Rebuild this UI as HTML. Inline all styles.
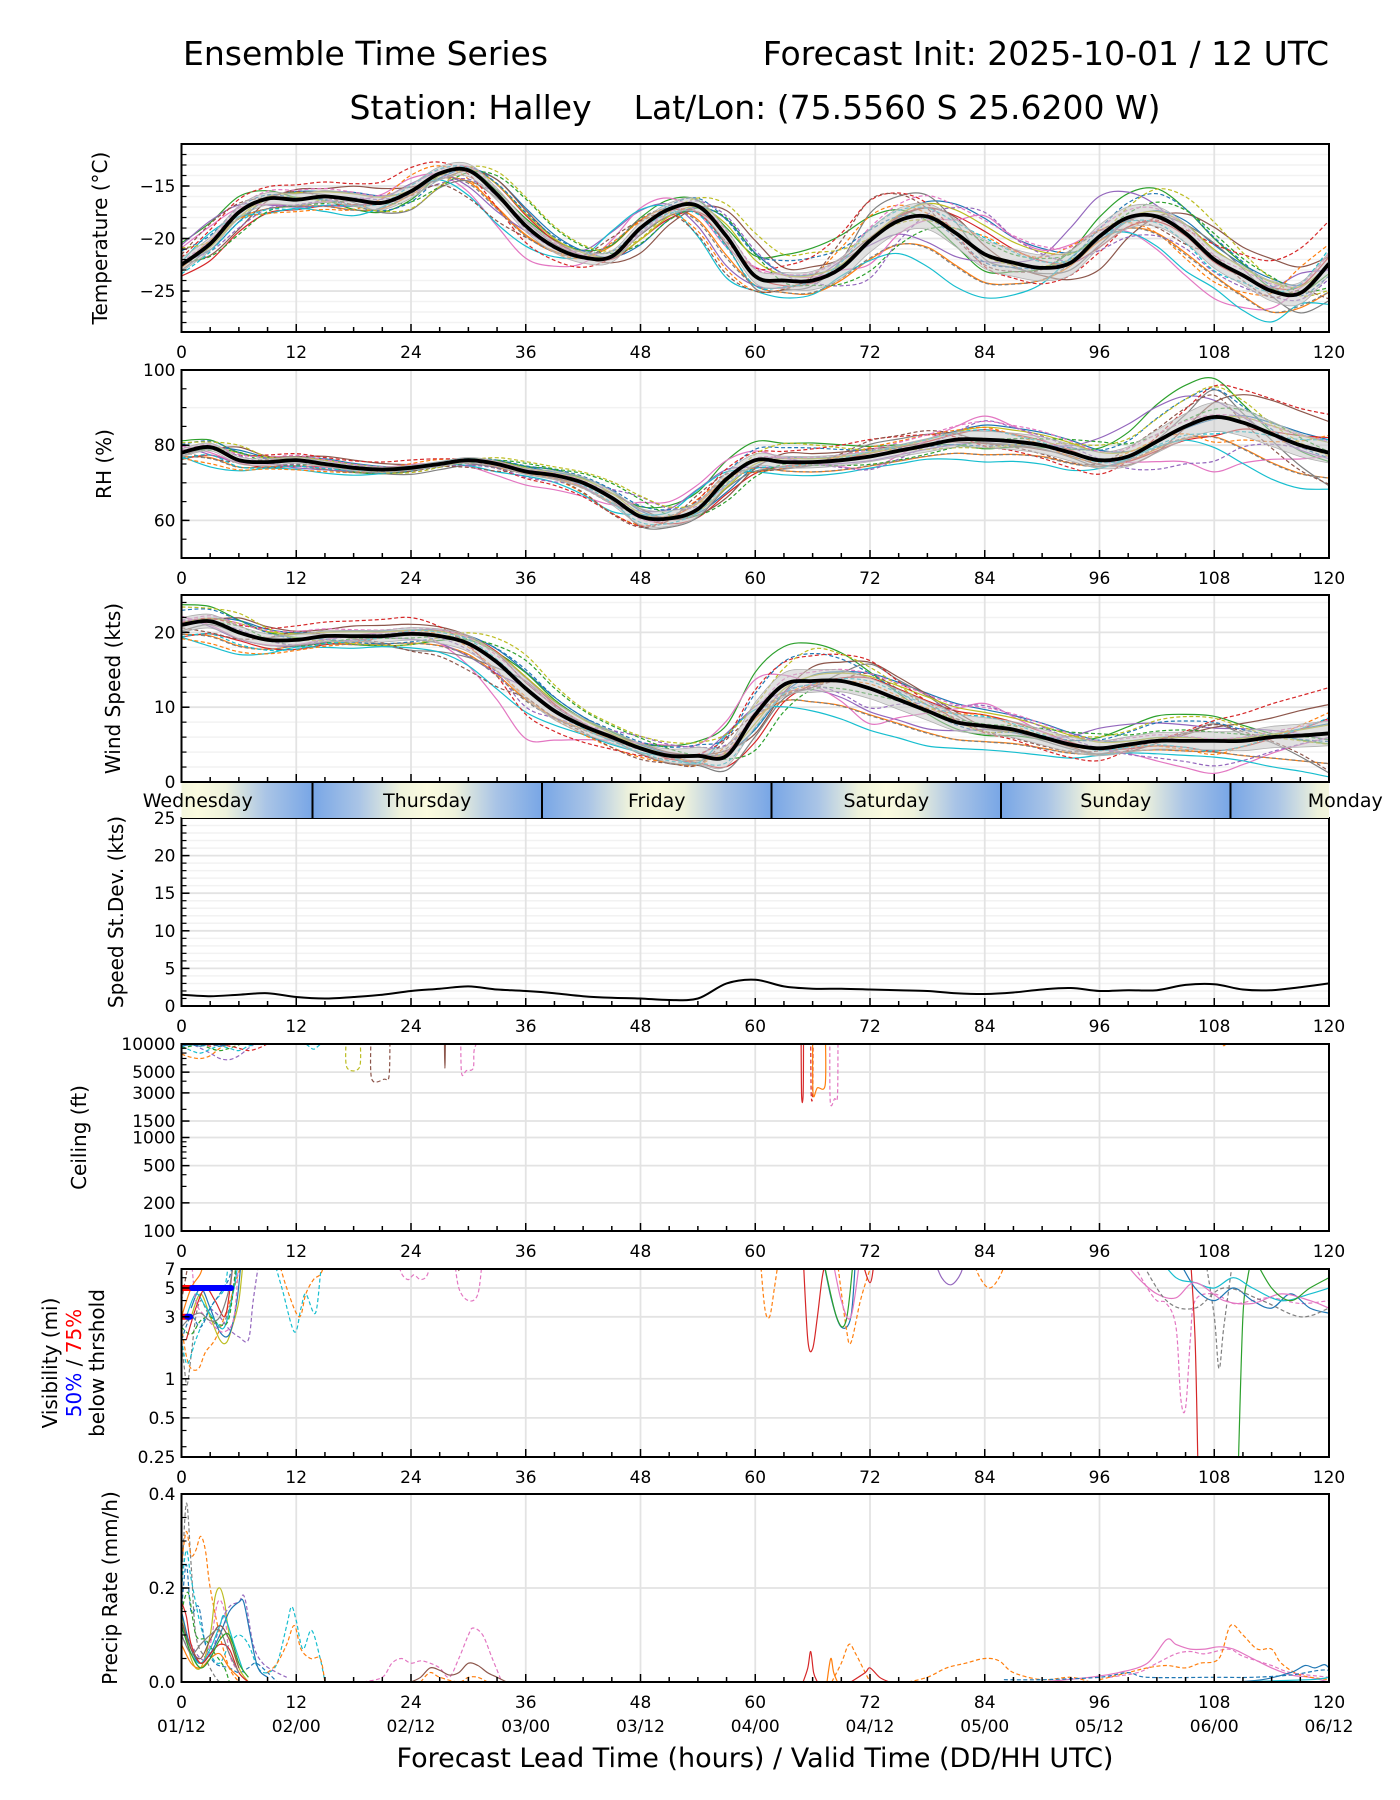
<!DOCTYPE html>
<html><head><meta charset="utf-8">
<style>
html,body{margin:0;padding:0;background:#fff;}
svg{display:block;font-family:"DejaVu Sans","Liberation Sans",sans-serif;}
</style></head>
<body>
<svg id="chart" width="1400" height="1800" viewBox="0 0 1400 1800" xmlns="http://www.w3.org/2000/svg">
<rect width="1400" height="1800" fill="#fff"/>
<text x="183" y="65" font-size="33">Ensemble Time Series</text>
<text x="1329" y="65" font-size="33" text-anchor="end">Forecast Init: 2025-10-01 / 12 UTC</text>
<text x="755" y="119" font-size="33" text-anchor="middle" xml:space="preserve">Station: Halley    Lat/Lon: (75.5560 S 25.6200 W)</text>
<text x="755" y="1767" font-size="27" text-anchor="middle">Forecast Lead Time (hours) / Valid Time (DD/HH UTC)</text>
<g id="root"></g>
</svg>
<script>
// ---------- DATA ----------
const hours3 = [0,3,6,9,12,15,18,21,24,27,30,33,36,39,42,45,48,51,54,57,60,63,66,69,72,75,78,81,84,87,90,93,96,99,102,105,108,111,114,117,120];
const hours12 = [0,12,24,36,48,60,72,84,96,108,120];
const tempMean = [-22.5,-20.5,-17.5,-16.2,-16.3,-16.0,-16.3,-16.6,-15.5,-13.8,-13.5,-15.8,-18.8,-20.8,-21.8,-21.7,-19.0,-17.2,-16.9,-19.8,-23.6,-24.0,-24.0,-22.8,-20.2,-18.3,-17.9,-19.5,-21.5,-22.3,-22.8,-22.3,-19.8,-18.0,-17.9,-19.5,-22.0,-23.5,-25.0,-25.2,-22.4];
const tempSpread = [1.2,1.0,1.2,1.0,1.0,1.2,2.0,2.5,2.0,1.5,2.0];
const rhMean = [78,79.5,76,75.5,76,75,74,73.5,74,75,76,75,73,72,70,66,61,60.5,63,71,76,75.5,75.5,76,77,78.5,80,81.5,81.5,81,80,78,76,77,81,85,87.5,86,83,80,78];
const rhSpread = [2.0,1.5,1.2,1.5,4.0,3.0,2.5,4.0,4.0,7.0,5.0];
const windMean = [21,21.5,20,19,19,19.5,19.5,19.5,19.8,19.5,18.5,16,12.5,9.5,7.5,6,4.5,3.5,3.5,3.5,9,13,13.5,13.5,12.5,11,9.5,8,7.5,7,6,5,4.5,5,5.5,5.5,5.5,5.5,6,6.2,6.5];
const windSpread = [1.8,1.3,1.5,2.5,1.2,3.0,2.5,2.0,1.8,2.2,3.0];
const sdevValues = [1.5,1.3,1.5,1.7,1.2,1.0,1.2,1.5,2.0,2.3,2.6,2.2,2.0,1.7,1.3,1.1,1.0,0.8,1.0,3.0,3.5,2.6,2.3,2.3,2.2,2.1,2.0,1.7,1.6,1.8,2.2,2.4,2.0,2.1,2.1,2.8,2.9,2.2,2.1,2.5,3.0];
const pattern0 = [0.5,1,0.8,0.3,-0.2,0.6,1.2,1.5,0.8,0.5,1];
const pattern1 = [-0.8,-0.5,-1,-0.6,0.2,-0.4,-1.3,-1.5,-1,-0.7,-1.2];
const pattern2 = [1.2,0.2,-0.5,0.9,1,1.3,0.5,-0.3,0.4,1.1,0.3];
const pattern3 = [-1.3,-1,0.3,-0.2,-0.9,-1.2,0.4,0.7,-0.5,-1,0.6];
const pattern4 = [0.3,-1.2,-0.4,1.1,0.5,-0.7,-0.8,0.4,1.3,0.2,-0.9];
const pattern5 = [-0.2,0.8,1.1,-1,-0.6,0.3,0.9,-0.9,-1.2,0.8,1.4];
const pattern6 = [0.9,-0.3,0.2,-1.3,1.2,0.9,-1.4,1.1,0.2,-1.3,-0.4];
const pattern7 = [-0.6,0.6,-1.2,0.5,-1.1,-0.9,1.4,-0.5,-0.2,1.4,-1.5];
const memberScale = [1,0.8,1.2,0.9,1.1,0.7,1.3,1,0.85,1.15,0.9,1.2,0.75,1.05,1,0.95,1.25,0.8,1.1,0.9];
const memberShift = [-1.5,1.0,0.5,-0.8,2.0,-2.2,1.5,0.0,-1.0,2.5,-0.5,1.8,-2.0,0.8,-1.3,2.2,-0.3,1.2,-1.8,0.3];
const hourTicks = [0,12,24,36,48,60,72,84,96,108,120];
const dateTicks = ["01/12","02/00","02/12","03/00","03/12","04/00","04/12","05/00","05/12","06/00","06/12"];
const dayNames = ["Wednesday","Thursday","Friday","Saturday","Sunday","Monday"];
const dayBoundaries = [13.7,37.7,61.7,85.7,109.7];
const ceilMembers = [
 [1,1,[[0,7800],[1,7200],[2,7000],[3,7500],[4,9000],[5,10000],[6,10500],[7,11000]]],
 [4,1,[[0,10500],[1,10000],[2,9000],[3,8000],[4,7000],[5,6800],[6,7500],[7,9000],[8,10500],[9,11000]]],
 [9,1,[[0,9500],[1,8500],[2,8000],[3,8800],[4,9500],[5,9000],[6,8500],[7,9500],[8,10000],[9,10500],[10,11000]]],
 [2,1,[[0,9000],[1,9500],[2,9800],[3,9000],[4,8500],[5,9000],[6,9800],[7,10500],[8,11000]]],
 [3,1,[[0,10500],[2,10000],[3,9500],[4,9800],[5,9500],[6,9000],[7,8500],[8,9000],[9,10000],[10,11000]]],
 [0,0,[[0,9500],[1,9800],[2,9500],[3,10000],[4,9500],[5,10000],[6,10500],[7,11000]]],
 [9,1,[[12.5,11000],[13.3,9500],[13.8,8800],[14.3,9500],[15,11000]]],
 [8,1,[[17.2,11000],[17.3,5600],[18.6,5600],[18.7,11000]]],
 [5,1,[[19.8,11000],[19.9,4200],[21.2,4200],[21.7,4500],[21.8,11000]]],
 [5,0,[[27.5,11000],[27.55,5500],[27.6,11000]]],
 [6,1,[[29.2,11000],[29.3,4800],[29.8,5200],[30.5,5500],[30.6,8500],[31,11000]]],
 [3,0,[[64.8,11000],[64.85,2800],[65.0,2800],[65.05,11000]]],
 [3,1,[[65.8,11000],[65.85,2900],[66.0,2900],[66.05,11000]]],
 [1,0,[[66.0,11000],[66.05,2900],[66.5,3400],[67.3,3600],[67.35,11000]]],
 [6,1,[[67.8,11000],[67.85,2400],[68.3,2600],[68.6,2800],[68.65,11000]]],
 [1,1,[[108.5,11000],[109,9600],[109.5,11000]]]
];
const visMembers = [
 [7,1,[[0,2],[0.3,1.2],[0.6,0.9],[1,1.5],[1.5,3],[2,4],[2.5,3.5],[3,3],[4,2.5],[5,3.5],[6,9]]],
 [1,1,[[0,2.5],[0.5,1.5],[1,1.2],[1.8,1.2],[2.5,1.6],[3.5,2],[4.5,3],[5.5,5],[6.5,9]]],
 [9,1,[[0,2],[0.6,1.3],[1.5,2],[2.5,3],[3.5,4],[4.5,5],[5,9]]],
 [4,1,[[3,3.5],[4,3],[5,2.4],[6,2.1],[7,2],[7.5,4],[8.2,9]]],
 [8,0,[[1,3],[2,4.5],[3,3],[4,2],[4.7,1.9],[5.3,2.5],[6,4],[6.5,9]]],
 [0,0,[[1,3.5],[2,5],[3,3.5],[4,2.3],[5,2.2],[5.8,4],[6.3,9]]],
 [9,0,[[0.5,3],[1.5,4.5],[2.5,3.6],[3.5,2.8],[4.5,2.5],[5.5,5],[6,9]]],
 [5,1,[[0,4],[0.6,7],[0.8,9]]],
 [2,1,[[0,2.5],[1,2.2],[2,2.8],[3,3],[4,2.6],[5,3],[5.8,9]]],
 [3,0,[[0.5,2],[1.5,3.5],[2.5,5],[3.5,4],[4.5,3],[5,4.5],[5.5,9]]],
 [6,1,[[1,9],[1.5,4],[2.5,3],[3.5,2.5],[4.5,2.3],[5.5,3],[6,9]]],
 [1,0,[[0,3],[1,5],[2,6.5],[2.5,9]]],
 [7,0,[[0,2.5],[1,3],[2,3.2],[3,2.8],[4,3],[5,5],[5.5,9]]],
 [0,1,[[0,2],[1,3],[2,2.5],[3,3.5],[4,4.5],[5,6],[5.5,9]]],
 [9,1,[[9.5,9],[10.5,5],[11.8,2.3],[12.5,3.5],[13,4.5],[14,3.2],[14.6,7],[15,9]]],
 [1,1,[[10,9],[11,5],[12.3,3],[13,4.5],[13.8,5.8],[14.6,6.5],[15.2,9]]],
 [6,1,[[22.5,9],[23,6.5],[23.7,5.8],[24.3,6.3],[25,5.8],[25.7,6.3],[26.2,9]]],
 [6,1,[[28.5,9],[29,5],[30,4],[31,4.5],[31.5,9]]],
 [5,0,[[28.7,9],[29,6.8],[29.3,9]]],
 [1,1,[[60.5,9],[61,3.5],[61.5,3],[62,5],[62.5,9]]],
 [3,0,[[65,9],[65.5,2],[66,1.7],[66.5,3],[67,6],[67.5,9]]],
 [0,0,[[67,9],[68,4],[69,2.5],[70,3],[70.5,9]]],
 [1,1,[[68.5,9],[69.5,2.5],[70,1.9],[71,4],[72,7],[72.5,9]]],
 [2,0,[[67,9],[68.5,3],[69.5,2.8],[70.3,9]]],
 [6,0,[[68,9],[69,4],[70,3],[71,9]]],
 [3,0,[[71,9],[72,5.5],[72.5,9]]],
 [4,0,[[78.5,9],[79.5,6],[80.5,5.3],[81.5,6.5],[82,9]]],
 [1,1,[[82.5,9],[83.5,6],[84.5,5],[85.5,6],[86.5,9]]],
 [6,1,[[99,9],[101,5],[102,4],[103,3.8],[104,2.5],[104.5,0.7],[105,0.6],[105.5,2],[106,4],[108,4.5],[110,3.8],[112,4],[114,4.2],[117,3.8],[120,4]]],
 [3,0,[[105.5,9],[106,2],[106.3,0.2]]],
 [7,1,[[107,9],[108,3],[108.5,1.2],[109,2.5],[110,9]]],
 [2,0,[[110.5,0.2],[111,3],[111.5,6],[112,9]]],
 [0,0,[[104,9],[106,5],[108,4],[110,5],[112,4],[114,3.5],[116,4.5],[118,3.5],[120,3.2]]],
 [9,0,[[102,9],[104,6],[106,5.5],[108,5],[110,6],[112,5],[115,4],[118,4.5],[120,5]]],
 [6,0,[[98,9],[100,6],[102,4.5],[104,4.2],[106,5.5],[109,4],[112,3.8],[115,4.5],[118,4],[120,3.5]]],
 [7,1,[[100,9],[103,4],[106,3.5],[109,5],[113,4],[117,3],[120,3.5]]],
 [2,0,[[112,9],[114,5],[116,4],[118,5],[120,6]]]
];
const visThresholds = [[0,1.1,5,"#ff0000"],[1.1,5.2,5,"#0000ff"],[0,0.6,3,"#ff0000"],[0.6,0.9,3,"#0000ff"]];
const precipMembers = [
 [7,1,[[0,0.2],[0.5,0.38],[1,0.25],[1.5,0.1],[2.5,0.05],[4,0.0],[6,0]]],
 [1,1,[[0,0.25],[0.5,0.32],[1,0.27],[1.5,0.28],[2,0.31],[2.5,0.28],[3,0.2],[4,0.1],[5,0.03],[6,0]]],
 [9,1,[[0,0.2],[0.5,0.28],[1,0.22],[2,0.12],[3,0.06],[4,0.04],[5,0.08],[6,0.1],[7,0.08],[8,0.03],[9,0.02],[10,0.04],[11,0.12],[11.5,0.16],[12,0.13],[12.7,0.07],[13.6,0.11],[14.5,0.05],[15,0.0]]],
 [0,1,[[0,0.15],[0.5,0.25],[1,0.15],[1.8,0.16],[2.5,0.08],[3.5,0.04],[5,0.03],[6,0.02],[7,0.03],[7.8,0.04],[9,0.02],[10,0]]],
 [2,1,[[0,0.15],[0.7,0.19],[1.5,0.1],[2.5,0.09],[3.5,0.06],[4.5,0.03],[5,0]]],
 [8,0,[[0,0.15],[1,0.05],[2,0.03],[3,0.1],[3.5,0.18],[4,0.2],[4.5,0.17],[5,0.1],[6,0.03],[7,0]]],
 [6,1,[[0,0.1],[1,0.06],[2,0.04],[3,0.08],[3.8,0.17],[4.5,0.15],[5,0.06],[6,0.02]]],
 [4,1,[[0,0.12],[1,0.08],[2,0.05],[3,0.05],[4,0.12],[5,0.16],[6,0.17],[6.6,0.18],[7.5,0.08],[8.5,0.04],[10,0.02],[11,0.01]]],
 [0,0,[[0,0.15],[1,0.07],[2,0.04],[3,0.06],[4,0.1],[5,0.15],[6,0.17],[6.5,0.17],[7.2,0.1],[8,0.03],[9,0.01]]],
 [9,0,[[0,0.12],[1,0.06],[2,0.04],[3,0.07],[4,0.12],[4.5,0.14],[5.5,0.08],[6.5,0.02]]],
 [3,0,[[0,0.17],[0.5,0.14],[1,0.08],[2,0.04],[3,0.06],[4,0.08],[5,0.07],[6,0.02],[7,0]]],
 [5,0,[[0,0.13],[1,0.07],[2,0.05],[3,0.09],[4,0.12],[5,0.09],[6,0.03]]],
 [7,0,[[0,0.1],[1,0.06],[2,0.08],[3,0.1],[4,0.11],[5,0.06],[6,0.02]]],
 [1,0,[[0,0.08],[1,0.04],[2,0.03],[3,0.05],[4,0.06],[5,0.03],[6,0.01]]],
 [2,0,[[0,0.12],[1,0.06],[2,0.03],[3,0.05],[4,0.09],[5,0.1],[6,0.04],[7,0.01]]],
 [1,1,[[9,0.02],[10,0.04],[11,0.08],[11.8,0.12],[12.5,0.07],[13.5,0.05],[14.5,0.05],[15,0.0]]],
 [6,1,[[19,0],[21,0.01],[22,0.04],[23,0.05],[24,0.04],[25,0.045],[26,0.04],[27,0.03],[28,0.01],[29,0.05],[30,0.1],[30.5,0.115],[31.5,0.1],[32.5,0.05],[33.5,0.0]]],
 [5,0,[[24,0],[25,0.01],[26,0.03],[27,0.025],[28,0.015],[29,0.02],[30,0.04],[31,0.035],[32,0.02],[33,0.01],[34,0]]],
 [1,1,[[25,0],[26,0.02],[27,0.01],[29,0],[30,0.01],[31,0.01],[32,0]]],
 [3,0,[[65,0],[65.5,0.03],[65.8,0.065],[66.1,0.02],[66.5,0]]],
 [1,1,[[68,0],[69,0.04],[69.8,0.08],[70.5,0.06],[71.5,0.02],[72,0]]],
 [1,0,[[67.5,0],[67.9,0.05],[68.2,0.02],[68.6,0]]],
 [3,0,[[70,0],[71.5,0.02],[72,0.03],[73,0.01],[74,0]]],
 [1,1,[[76,0],[78,0.01],[80,0.03],[82,0.04],[84,0.05],[85.5,0.045],[87,0.02],[90,0.005],[93,0.01],[95,0.0]]],
 [6,0,[[90,0],[95,0.01],[98,0.02],[101,0.04],[103,0.09],[104,0.08],[105.5,0.07],[107,0.07],[108.5,0.075],[110,0.07],[112,0.05],[114,0.03],[116,0.015],[118,0.01],[120,0]]],
 [6,1,[[97,0.01],[100,0.02],[102,0.04],[104,0.06],[105.5,0.065],[107,0.06],[109.5,0.07],[111,0.055],[114,0.035],[116,0.02],[120,0.01]]],
 [1,1,[[96,0.005],[99,0.02],[101,0.03],[103,0.035],[105,0.03],[106.5,0.04],[108.5,0.05],[109.7,0.12],[111,0.1],[112.5,0.07],[114,0.07],[115,0.04],[117,0.015],[120,0.005]]],
 [0,0,[[110,0],[113,0.005],[116,0.02],[117.5,0.035],[118.5,0.03],[119.5,0.037],[120,0.03]]],
 [0,1,[[86,0.005],[90,0.005],[96,0.01],[99,0.02],[101,0.01],[108,0.01],[112,0.01],[116,0.015],[119,0.025],[120,0.025]]],
 [9,0,[[110,0],[118,0.005],[120,0.01]]]
];

// ---------- RENDERING ----------
const COLORS = ["#1f77b4","#ff7f0e","#2ca02c","#d62728","#9467bd","#8c564b","#e377c2","#7f7f7f","#bcbd22","#17becf"];
const patterns = [pattern0,pattern1,pattern2,pattern3,pattern4,pattern5,pattern6,pattern7];
const NS = "http://www.w3.org/2000/svg";
const root = document.getElementById('root');
const X0 = 181.5, X1 = 1329;
function X(h){ return X0 + (h/120)*(X1-X0); }
function mk(tag, attrs, parent){
  const e = document.createElementNS(NS, tag);
  for (const k in attrs) e.setAttribute(k, attrs[k]);
  (parent||root).appendChild(e);
  return e;
}
function interp(xs, ys, x){
  if (x<=xs[0]) return ys[0];
  for (let i=1;i<xs.length;i++){ if (x<=xs[i]){ const t=(x-xs[i-1])/(xs[i]-xs[i-1]); return ys[i-1]+t*(ys[i]-ys[i-1]); } }
  return ys[ys.length-1];
}
function smooth(pts){
  if (pts.length<2) return "";
  let d = "M"+pts[0][0].toFixed(1)+","+pts[0][1].toFixed(1);
  for (let i=0;i<pts.length-1;i++){
    const p0=pts[Math.max(0,i-1)], p1=pts[i], p2=pts[i+1], p3=pts[Math.min(pts.length-1,i+2)];
    const c1x=p1[0]+(p2[0]-p0[0])/6, c1y=p1[1]+(p2[1]-p0[1])/6;
    const c2x=p2[0]-(p3[0]-p1[0])/6, c2y=p2[1]-(p3[1]-p1[1])/6;
    d += " C"+c1x.toFixed(1)+","+c1y.toFixed(1)+" "+c2x.toFixed(1)+","+c2y.toFixed(1)+" "+p2[0].toFixed(1)+","+p2[1].toFixed(1);
  }
  return d;
}
let clipId = 0;
function panel(cfg){
  const g = mk('g', {});
  
  
  const top=cfg.top, bot=cfg.bot;
  const Y = cfg.log
    ? v => bot - (Math.log10(v)-Math.log10(cfg.min))/(Math.log10(cfg.max)-Math.log10(cfg.min))*(bot-top)
    : v => bot - (v-cfg.min)/(cfg.max-cfg.min)*(bot-top);
  const grid = mk('g', {}, g);
  
  
  (cfg.minorGrid||[]).forEach(v=>{ mk('line',{x1:X0,x2:X1,y1:Y(v),y2:Y(v),stroke:'#f2f2f2','stroke-width':1.5},grid); });
  cfg.ticks.forEach(v=>{ mk('line',{x1:X0,x2:X1,y1:Y(v),y2:Y(v),stroke:'#e3e3e3','stroke-width':1.8},grid); });
  hourTicks.forEach(h=>{ mk('line',{x1:X(h),x2:X(h),y1:top,y2:bot,stroke:'#e3e3e3','stroke-width':1.8},grid); });
  const id='clip'+(clipId++);
  const cp = mk('clipPath',{id:id},g);
  mk('rect',{x:X0,y:top,width:X1-X0,height:bot-top},cp);
  const plot = mk('g',{'clip-path':'url(#'+id+')'},g);
  
  
  cfg.draw(plot, Y);
  const tk = mk('g',{stroke:'#000'},g);
  for (let h=0; h<=120; h+=3){ const L = (h%12===0)?8:5; mk('line',{x1:X(h),x2:X(h),y1:bot,y2:bot-L,'stroke-width':1.5},tk); }
  cfg.ticks.forEach(v=>{ mk('line',{x1:X0,x2:X0+8,y1:Y(v),y2:Y(v),'stroke-width':1.5},tk); });
  (cfg.minorTicks||[]).forEach(v=>{ mk('line',{x1:X0,x2:X0+5,y1:Y(v),y2:Y(v),'stroke-width':1.2},tk); });
  const fr = mk('rect',{x:X0,y:top,width:X1-X0,height:bot-top,fill:'none',stroke:'#000','stroke-width':2},g);
  
  
  cfg.ticks.forEach((v,i)=>{
    const t = mk('text',{x:X0-6,y:Y(v)+6,'font-size':cfg.tickFont||17,'text-anchor':'end'},g);
    
    
    t.textContent = cfg.labels[i];
  });
  if (!cfg.noX) hourTicks.forEach(h=>{
    const t = mk('text',{x:X(h),y:bot+26,'font-size':17,'text-anchor':'middle'},g);
    
    
    t.textContent = h;
  });
  cfg.title.forEach(line=>{
    const t = mk('text',{x:line.x,y:(top+bot)/2,'font-size':20,'text-anchor':'middle',transform:'rotate(-90 '+line.x+' '+((top+bot)/2)+')'},g);
    
    
    if (line.parts){ line.parts.forEach(p=>{ const s=mk('tspan',{fill:p[1]},t); s.textContent=p[0]; }); }
    else t.textContent = line.text;
  });
  return {g, Y};
}
function memberSeries(mean, spread, i){
  const pa = patterns[i%8], pb = patterns[(i*3+1)%8];
  return hours3.map((h)=>{
    const hs = Math.min(120, Math.max(0, h + memberShift[i]));
    const s = interp(hours12, spread, h);
    const dv = interp(hours12, pa, h) + 0.45*interp(hours12, pb, h + 5);
    return interp(hours3, mean, hs) + s*memberScale[i]*dv*1.05;
  });
}
function ensembleDraw(mean, spread, name){
  return (plot, Y)=>{
    for (let i=0;i<20;i++){
      const vals = memberSeries(mean, spread, i);
      const p = mk('path',{d:smooth(hours3.map((h,k)=>[X(h),Y(vals[k])])),fill:'none',stroke:COLORS[i%10],'stroke-width':1.2,'stroke-dasharray':i>=10?'4,2.5':'none'},plot);
      
      
    }
    const up = hours3.map((h,k)=>[X(h),Y(mean[k]+0.55*interp(hours12,spread,h))]);
    const lo = hours3.map((h,k)=>[X(h),Y(mean[k]-0.55*interp(hours12,spread,h))]).reverse();
    const band = mk('path',{d:smooth(up)+" L"+lo[0][0]+","+lo[0][1]+" "+smooth(lo).slice(1)+" Z",fill:'#c8c8c8','fill-opacity':0.55,stroke:'#b0b0b0','stroke-width':0.8},plot);
    
    
    const m = mk('path',{d:smooth(hours3.map((h,k)=>[X(h),Y(mean[k])])),fill:'none',stroke:'#000','stroke-width':3.8},plot);
    
    
  };
}
function membersDraw(list, name){
  return (plot, Y)=>{
    list.forEach(mb=>{
      const p = mk('path',{d:smooth(mb[2].map(q=>[X(q[0]),Y(Math.max(q[1],0.0001))])),fill:'none',stroke:COLORS[mb[0]],'stroke-width':1.2,'stroke-dasharray':mb[1]?'4,2.5':'none'},plot);
      
      
    });
  };
}
function rng(a,b,s){ const r=[]; for(let v=a; v<=b+1e-9; v+=s) r.push(+v.toFixed(4)); return r; }

panel({name:'temperature',top:144,bot:332,min:-28.9,max:-11,ticks:[-25,-20,-15],labels:['\u221225','\u221220','\u221215'],
  minorGrid:rng(-28,-12,1),minorTicks:rng(-28,-12,1),title:[{x:107,text:'Temperature (\u00b0C)'}],
  draw:ensembleDraw(tempMean,tempSpread,'temperature')});
panel({name:'rh',top:370,bot:558,min:50,max:100,ticks:[60,80,100],labels:['60','80','100'],
  minorGrid:[70,90],minorTicks:rng(50,100,5),title:[{x:111,text:'RH (%)'}],
  draw:ensembleDraw(rhMean,rhSpread,'rh')});
panel({name:'wind',top:595,bot:782,min:0,max:25,ticks:[0,10,20],labels:['0','10','20'],noX:true,
  minorGrid:rng(2,24,2),minorTicks:rng(0,25,2),title:[{x:120,text:'Wind Speed (kts)'}],
  draw:ensembleDraw(windMean,windSpread,'wind')});
panel({name:'speed-stdev',top:818,bot:1006,min:0,max:25,ticks:[0,5,10,15,20,25],labels:['0','5','10','15','20','25'],
  minorGrid:rng(1,24,1),minorTicks:rng(1,24,1),title:[{x:123,text:'Speed St.Dev. (kts)'}],
  draw:(plot,Y)=>{ const p=mk('path',{d:smooth(hours3.map((h,k)=>[X(h),Y(sdevValues[k])])),fill:'none',stroke:'#000','stroke-width':2},plot);
      }});
panel({name:'ceiling',top:1044,bot:1231,min:100,max:10000,log:true,ticks:[100,200,500,1000,1500,3000,5000,10000],labels:['100','200','500','1000','1500','3000','5000','10000'],
  minorTicks:[300,400,600,700,800,900,2000,4000,6000,7000,8000,9000],title:[{x:86,text:'Ceiling (ft)'}],tickFont:17,
  draw:membersDraw(ceilMembers,'ceiling')});
panel({name:'visibility',top:1269,bot:1457,min:0.25,max:7,log:true,ticks:[0.25,0.5,1,3,5,7],labels:['0.25','0.5','1','3','5','7'],
  minorTicks:[0.3,0.4,0.6,0.7,0.8,0.9,2,4,6],
  title:[{x:57,text:'Visibility (mi)'},{x:81,parts:[['50%','#0000ff'],[' / ','#000'],['75%','#ff0000']]},{x:104,text:'below thrshold'}],
  draw:(plot,Y)=>{ membersDraw(visMembers,'visibility')(plot,Y);
    visThresholds.forEach(t=>{ const l=mk('line',{x1:X(t[0]),x2:X(t[1]),y1:Y(t[2]),y2:Y(t[2]),stroke:t[3],'stroke-width':6,'stroke-linecap':'round'},plot);
        }); }});
panel({name:'precip',top:1494,bot:1682,min:0,max:0.4,ticks:[0,0.2,0.4],labels:['0.0','0.2','0.4'],
  minorTicks:rng(0.05,0.35,0.05),title:[{x:117,text:'Precip Rate (mm/h)'}],
  draw:membersDraw(precipMembers,'precip')});
hourTicks.forEach((h,i)=>{
  const t = mk('text',{x:X(h),y:1732,'font-size':17,'text-anchor':'middle'});
  
  
  t.textContent = dateTicks[i];
});
(function(){
  const top=783, bot=818;
  const defs = mk('defs',{});
  const period = X(24)-X(0);
  const startX = X(dayBoundaries[0]-24);
  const lg = mk('linearGradient',{id:'dayGrad',gradientUnits:'userSpaceOnUse',x1:startX,x2:startX+period,y1:0,y2:0,spreadMethod:'repeat'},defs);
  [[0,'#78a6e6'],[0.2,'#a9c4e6'],[0.38,'#eef2dc'],[0.5,'#fbfbdf'],[0.62,'#eef2dc'],[0.8,'#a9c4e6'],[1,'#78a6e6']].forEach(s=>mk('stop',{offset:s[0],'stop-color':s[1]},lg));
  const r = mk('rect',{x:X0,y:top,width:X1-X0,height:bot-top,fill:'url(#dayGrad)'});
  
  
  dayBoundaries.forEach(b=>{ const l=mk('line',{x1:X(b),x2:X(b),y1:top,y2:bot,stroke:'#000','stroke-width':2});
      });
  dayNames.forEach((n,i)=>{
    const t = mk('text',{x:X(dayBoundaries[0]-12+24*i),y:807,'font-size':19,'text-anchor':'middle'});
    
    
    t.textContent = n;
  });
})();
</script>
</body></html>
